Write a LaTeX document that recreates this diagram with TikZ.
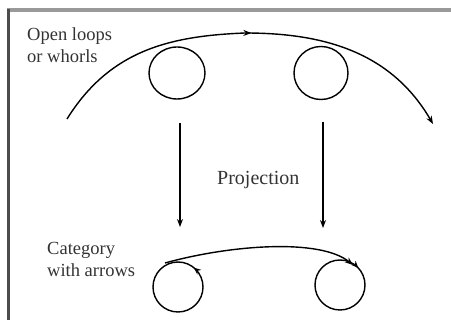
\documentclass[tikz,border=0pt]{standalone}
\usepackage{fontspec}
\setmainfont{Liberation Serif}
\usetikzlibrary{arrows.meta,decorations.markings}
\tikzset{
  line/.style={line width=1.4pt, black},
  tip/.style={-{Stealth[length=8pt,width=6pt]}},
  lbl/.style={font=\fontsize{18.5}{22}\selectfont, text=black!80, inner sep=0pt, align=left, anchor=base west},
  loopc/.style={line width=1.4pt, black}
}
\begin{document}
\begin{tikzpicture}[x=1pt,y=-1pt]
\useasboundingbox (0,0) rectangle (451,320);
% frame
\draw[gray!80, line width=4pt] (7,10.5) -- (451,10.5);
\draw[gray!60!black, line width=2.5pt] (8.5,9) -- (8.5,320);
% coordinates
\coordinate (a0) at (67,119);
\coordinate (am) at (245,33);
\coordinate (a1) at (433,124);
\coordinate (tl) at (177,73);
\coordinate (tr) at (321,73);
\coordinate (bl) at (178,287);
\coordinate (br) at (340,285);
\coordinate (vls) at (180,123);
\coordinate (vle) at (180,227);
\coordinate (vrs) at (323,122);
\coordinate (vre) at (323,228);
\coordinate (cs) at (165,263);
\coordinate (ce) at (353,265);
% top loops
\draw[loopc] (tl) ellipse [x radius=28, y radius=26];
\draw[loopc] (tr) ellipse [x radius=27, y radius=26.5];
% big arc
\draw[line, tip, postaction={decorate}, decoration={markings, mark=at position 0.5 with {\arrow{Stealth[length=8pt,width=6pt]}}}]
  (a0) .. controls (110,50) and (170,36) .. (am) .. controls (320,33) and (390,50) .. (a1);
% projection arrows
\draw[line, tip] (vls) -- (vle);
\draw[line, tip] (vrs) -- (vre);
% bottom loops
\draw[loopc, postaction={decorate}, decoration={markings, mark=at position 0.86 with {\arrowreversed{Stealth[length=7pt,width=6pt]}}}] (bl) circle [radius=25];
\draw[loopc, postaction={decorate}, decoration={markings, mark=at position 0.88 with {\arrow{Stealth[length=7pt,width=6pt]}}}] (br) circle [radius=25];
\draw[line, tip] (cs) .. controls (230,245) and (320,238) .. (ce);
% labels
\node[lbl] (t1) at (27,41) {Open loops};
\node[lbl] (t2) at (27,63) {or whorls};
\node[lbl] (t3) at (47,255) {Category};
\node[lbl] (t4) at (47,277) {with arrows};
\node[lbl, font=\fontsize{20}{24}\selectfont] (t5) at (217,185) {Projection};
\end{tikzpicture}
\end{document}
